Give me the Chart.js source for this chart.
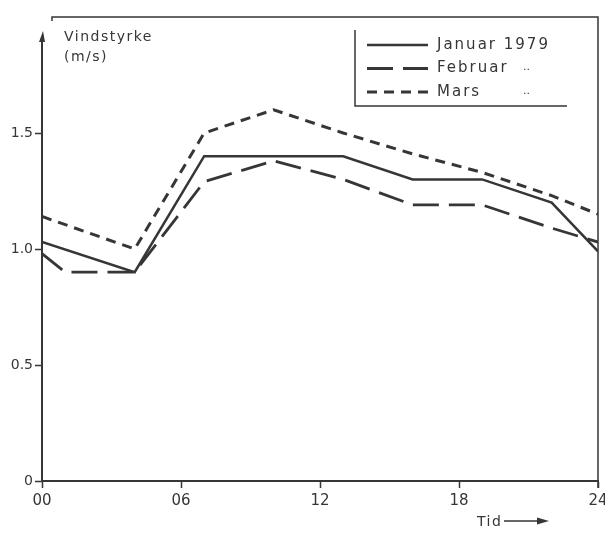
<!DOCTYPE html>
<html>
<head>
<meta charset="utf-8">
<script src="https://cdn.jsdelivr.net/npm/chart.js@4/dist/chart.umd.min.js"></script>
<style>
  html, body { margin: 0; padding: 0; background: #fff; }
  canvas { display: block; }
</style>
</head>
<body>
<canvas id="vind" width="605" height="535"></canvas>
<script>
// Vindstyrke gjennom døgnet (m/s)
const seriesNames = ['Januar 1979', 'Februar', 'Mars'];
const hoursJan = [0, 4, 7, 10, 13, 16, 19, 22, 24];
const valuesJan = [1.03, 0.90, 1.40, 1.40, 1.40, 1.30, 1.30, 1.20, 0.99];
const hoursFeb = [0, 1, 4, 7, 10, 13, 16, 19, 22, 24];
const valuesFeb = [0.98, 0.90, 0.90, 1.29, 1.38, 1.30, 1.19, 1.19, 1.09, 1.03];
const hoursMar = [0, 4, 7, 10, 13, 16, 19, 22, 24];
const valuesMar = [1.14, 1.00, 1.50, 1.60, 1.50, 1.41, 1.33, 1.23, 1.15];
const xTicks = [0, 6, 12, 18, 24];
const yTicks = [0, 0.5, 1.0, 1.5];

const ink = '#363636';

function points(hours, values) {
    return hours.map((h, i) => ({ x: h, y: values[i] }));
}

// Ramme, pil på y-aksen, aksetitler og forklaring
const decor = {
    id: 'decor',
    afterDraw(chart) {
        const { ctx, chartArea: a } = chart;
        ctx.save();
        ctx.strokeStyle = ink;
        ctx.fillStyle = ink;

        // ramme oppe og til høyre
        ctx.lineWidth = 1.5;
        ctx.beginPath();
        ctx.moveTo(52, a.top + 4);
        ctx.lineTo(52, a.top);
        ctx.lineTo(a.right, a.top);
        ctx.lineTo(a.right, a.bottom + 7);
        ctx.stroke();

        // y-akse med pil
        ctx.lineWidth = 2;
        ctx.beginPath();
        ctx.moveTo(a.left, a.bottom);
        ctx.lineTo(a.left, 38);
        ctx.stroke();
        ctx.beginPath();
        ctx.moveTo(a.left - 3, 42);
        ctx.lineTo(a.left + 1, 31);
        ctx.lineTo(a.left + 3, 42);
        ctx.closePath();
        ctx.fill();

        ctx.font = '14px "DejaVu Sans"';
        ctx.letterSpacing = '1.5px';
        ctx.textBaseline = 'middle';
        ctx.textAlign = 'left';
        ctx.fillText('Vindstyrke', 64, 37);
        ctx.fillText('(m/s)', 64, 57);

        // Tid -->
        ctx.fillText('Tid', 477, 522);
        ctx.lineWidth = 1.5;
        ctx.beginPath();
        ctx.moveTo(504, 521);
        ctx.lineTo(540, 521);
        ctx.stroke();
        ctx.beginPath();
        ctx.moveTo(537, 517.5);
        ctx.lineTo(549, 521);
        ctx.lineTo(537, 524.5);
        ctx.closePath();
        ctx.fill();

        // forklaring
        ctx.lineWidth = 1.5;
        ctx.beginPath();
        ctx.moveTo(355, a.top + 13);
        ctx.lineTo(355, 106);
        ctx.lineTo(567, 106);
        ctx.stroke();

        ctx.font = '15px "DejaVu Sans"';
        ctx.letterSpacing = '2px';
        chart.data.datasets.forEach((ds, i) => {
            const y = 45 + i * 23.5;
            ctx.lineWidth = ds.borderWidth;
            ctx.setLineDash(ds.borderDash || []);
            ctx.beginPath();
            ctx.moveTo(367, y);
            ctx.lineTo(428, y);
            ctx.stroke();
            ctx.setLineDash([]);
            ctx.fillText(ds.label, 437, y);
            if (i > 0) {
                ctx.font = '11px "DejaVu Sans"';
                ctx.letterSpacing = '0px';
                ctx.fillText('..', 523, y - 1);
                ctx.font = '15px "DejaVu Sans"';
                ctx.letterSpacing = '2px';
            }
        });
        ctx.restore();
    }
};

new Chart(document.getElementById('vind'), {
    type: 'line',
    data: {
        datasets: [
            {
                label: seriesNames[0],
                data: points(hoursJan, valuesJan),
                borderColor: ink,
                borderWidth: 2.5,
                borderDash: []
            },
            {
                label: seriesNames[1],
                data: points(hoursFeb, valuesFeb),
                borderColor: ink,
                borderWidth: 2.8,
                borderDash: [26, 10]
            },
            {
                label: seriesNames[2],
                data: points(hoursMar, valuesMar),
                borderColor: ink,
                borderWidth: 3,
                borderDash: [10, 7]
            }
        ]
    },
    options: {
        responsive: false,
        animation: false,
        devicePixelRatio: 1,
        layout: { autoPadding: false, padding: { top: 17, right: 7, left: 0, bottom: 0 } },
        elements: { point: { radius: 0 }, line: { tension: 0 } },
        plugins: { legend: { display: false }, tooltip: { enabled: false } },
        scales: {
            x: {
                type: 'linear',
                min: 0,
                max: 24,
                afterBuildTicks: axis => { axis.ticks = xTicks.map(v => ({ value: v })); },
                afterFit: axis => {
                    axis.height = 54;
                    axis.paddingLeft = 0;
                    axis.paddingRight = 0;
                },
                ticks: {
                    color: ink,
                    font: { family: 'DejaVu Sans', size: 15 },
                    padding: 4,
                    maxRotation: 0,
                    callback: v => String(v).padStart(2, '0')
                },
                grid: { drawOnChartArea: false, tickLength: 7, tickColor: ink, tickWidth: 1.5 },
                border: { color: ink, width: 2 }
            },
            y: {
                min: 0,
                max: 2,
                afterBuildTicks: axis => { axis.ticks = yTicks.map(v => ({ value: v })); },
                afterFit: axis => {
                    axis.width = 42;
                    axis.paddingTop = 0;
                    axis.paddingBottom = 0;
                },
                ticks: {
                    color: ink,
                    font: { family: 'DejaVu Sans', size: 14 },
                    padding: 2,
                    callback: v => v === 0 ? '0' : v.toFixed(1)
                },
                grid: { drawOnChartArea: false, tickLength: 7, tickColor: ink, tickWidth: 1.5 },
                border: { display: false }
            }
        }
    },
    plugins: [decor]
});
</script>
</body>
</html>
